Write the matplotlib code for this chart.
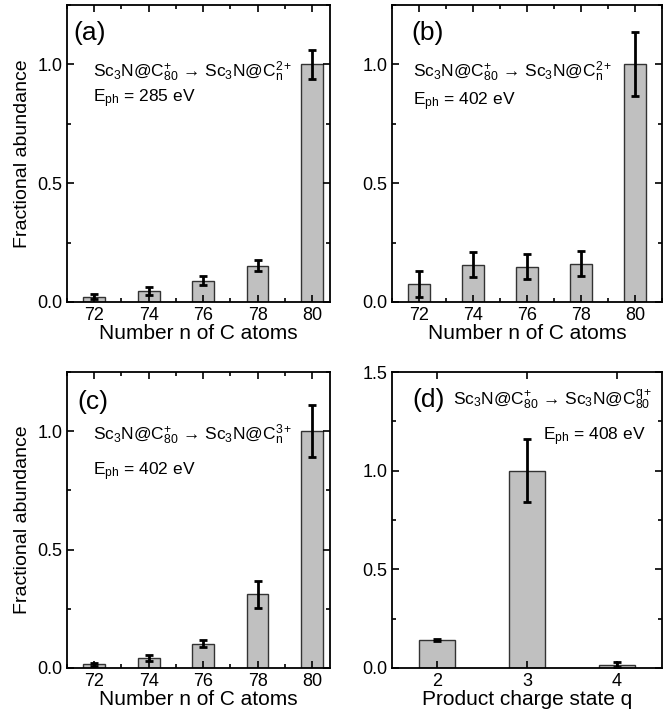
import matplotlib
matplotlib.use('Agg')
import matplotlib.pyplot as plt
from matplotlib.ticker import MultipleLocator

plt.rcParams['font.family'] = ['Liberation Sans', 'DejaVu Sans']
plt.rcParams['mathtext.fontset'] = 'custom'
plt.rcParams['mathtext.rm'] = 'Liberation Sans'
plt.rcParams['mathtext.it'] = 'Liberation Sans:italic'

# data
n_atoms = [72, 74, 76, 78, 80]
abund_a = [0.022, 0.046, 0.090, 0.152, 1.0]
err_a = [0.010, 0.016, 0.019, 0.023, 0.060]
abund_b = [0.077, 0.157, 0.149, 0.161, 1.0]
err_b = [0.055, 0.053, 0.053, 0.053, 0.135]
abund_c = [0.015, 0.042, 0.103, 0.311, 1.0]
err_c = [0.007, 0.012, 0.016, 0.056, 0.110]
charge_q = [2, 3, 4]
abund_d = [0.144, 1.0, 0.017]
err_d = [0.005, 0.160, 0.011]

left = r'Sc$_\mathregular{3}$N@C$^\mathregular{+}_\mathregular{80}$'
txt_2 = left + ' \u2192 ' + r'Sc$_\mathregular{3}$N@C$^\mathregular{2+}_\mathregular{n}$'
txt_3 = left + ' \u2192 ' + r'Sc$_\mathregular{3}$N@C$^\mathregular{3+}_\mathregular{n}$'
txt_q = left + ' \u2192 ' + r'Sc$_\mathregular{3}$N@C$^\mathregular{q+}_\mathregular{80}$'

def eph(v):
    return r'E$_\mathregular{ph}$ = %d eV' % v

W, H = 671, 718
fig = plt.figure(figsize=(W / 100, H / 100), dpi=100)

def add_ax(l, t, r, b):
    return fig.add_axes([l / W, 1 - b / H, (r - l) / W, (b - t) / H])

ax_a = add_ax(67, 5, 330, 302)
ax_b = add_ax(392, 5, 662, 302)
ax_c = add_ax(67, 372, 330, 668)
ax_d = add_ax(392, 372, 662, 668)

bar_kw = dict(color='#c0c0c0', edgecolor='#333333', linewidth=1.0, zorder=1)
err_kw = dict(fmt='none', ecolor='black', elinewidth=2, capsize=3.2, capthick=2, zorder=2)

def style(ax, ymax, yminor=0.25):
    ax.set_ylim(0, ymax)
    ax.yaxis.set_major_locator(MultipleLocator(0.5))
    ax.yaxis.set_minor_locator(MultipleLocator(yminor))
    ax.tick_params(which='both', direction='in', top=True, right=True, labelsize=13, zorder=5)
    ax.tick_params(which='major', length=5, width=1.2)
    ax.tick_params(which='minor', length=3, width=1.2)
    for s in ax.spines.values():
        s.set_linewidth(1.3)
        s.set_zorder(5)

panels = [(ax_a, abund_a, err_a, txt_2, 285, '(a)', 80.66),
          (ax_b, abund_b, err_b, txt_2, 402, '(b)', 81),
          (ax_c, abund_c, err_c, txt_3, 402, '(c)', 80.66)]
label_pos = {'(a)': (0.023, 0.905, 0.099, 0.775, 0.685),
             '(b)': (0.07, 0.905, 0.078, 0.775, 0.673),
             '(c)': (0.038, 0.9, 0.099, 0.787, 0.662)}

for ax, vals, errs, txt, e, lab, xmax in panels:
    ax.bar(n_atoms, vals, width=0.8, **bar_kw)
    ax.errorbar(n_atoms, vals, yerr=errs, **err_kw)
    style(ax, 1.25)
    ax.set_xlim(71, xmax)
    ax.set_xticks(n_atoms)
    ax.xaxis.set_minor_locator(MultipleLocator(1))
    ax.set_xlabel('Number n of C atoms', fontsize=15, labelpad=0)
    lx, ly, tx, ty, ey = label_pos[lab]
    ax.text(lx, ly, lab, transform=ax.transAxes, fontsize=19, va='center', ha='left')
    ax.text(tx, ty, txt, transform=ax.transAxes, fontsize=12.5, va='center', ha='left')
    ax.text(tx, ey, eph(e), transform=ax.transAxes, fontsize=12.5, va='center', ha='left')

ax_a.set_ylabel('Fractional abundance', fontsize=14, labelpad=4)
ax_c.set_ylabel('Fractional abundance', fontsize=14, labelpad=4)

ax_d.bar(charge_q, abund_d, width=0.4, **bar_kw)
ax_d.errorbar(charge_q, abund_d, yerr=err_d, **err_kw)
style(ax_d, 1.5)
ax_d.set_xlim(1.5, 4.5)
ax_d.set_xticks(charge_q)
ax_d.set_xlabel('Product charge state q', fontsize=15, labelpad=0)
ax_d.text(0.074, 0.905, '(d)', transform=ax_d.transAxes, fontsize=19, va='center', ha='left')
ax_d.text(0.965, 0.905, txt_q, transform=ax_d.transAxes, fontsize=12.5, va='center', ha='right')
ax_d.text(0.56, 0.78, eph(408), transform=ax_d.transAxes, fontsize=12.5, va='center', ha='left')

fig.savefig('out.png', dpi=100)
